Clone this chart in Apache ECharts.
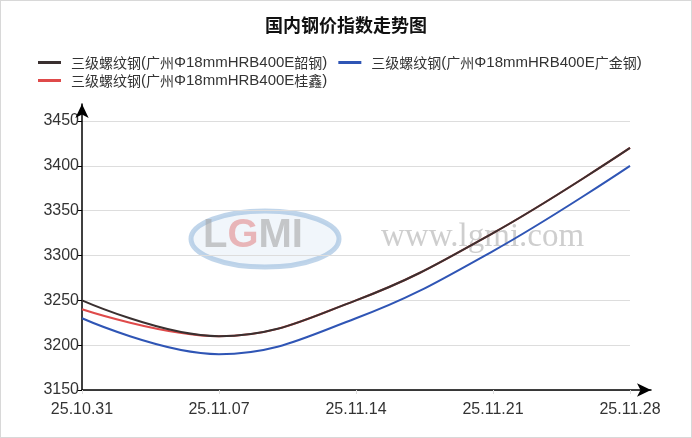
<!DOCTYPE html>
<html><head><meta charset="utf-8">
<script src="https://cdn.jsdelivr.net/npm/echarts@6/dist/echarts.min.js"></script>
<style>html,body{margin:0;padding:0;background:#fff}#c{width:692px;height:438px;box-sizing:border-box;border:1px solid #d8d8d8}</style>
</head><body><div id="c"></div>
<script>
const categories = ['25.10.31','25.11.07','25.11.14','25.11.21','25.11.28'];
const seriesNames = ['三级螺纹钢(广州Φ18mmHRB400E韶钢)','三级螺纹钢(广州Φ18mmHRB400E广金钢)','三级螺纹钢(广州Φ18mmHRB400E桂鑫)'];
const shaogang = [3250, 3210, 3250, 3325, 3420];
const guangjin = [3230, 3190, 3230, 3305, 3400];
const guixin = [3240, 3210, 3250, 3325, 3420];
const yTicks = {min: 3150, max: 3450, interval: 50};

const chart = echarts.init(document.getElementById('c'));
const latin = '"Liberation Sans", Arial, sans-serif';
const cjk = '"Noto Sans CJK SC", sans-serif';

function legendFmt(name) {
  const runs = name.match(/[\u4e00-\u9fff]+|[^\u4e00-\u9fff]+/g) || [];
  return '{s|}' + runs.map(r => (/[\u4e00-\u9fff]/.test(r) ? '{c|' : '{l|') + r + '}').join('');
}
const legendText = {
  color: '#333',
  rich: {
    s: {width: 5},
    c: {fontSize: 14, fontFamily: cjk, color: '#333'},
    l: {fontSize: 15, fontFamily: latin, color: '#333'}
  }
};
chart.setOption({
  animation: false,
  title: {text: '国内钢价指数走势图', left: 'center', top: 10,
    textStyle: {fontSize: 18, fontWeight: 'bold', color: '#111', fontFamily: cjk}},
  legend: [
    {data: [seriesNames[0], seriesNames[1]], left: 32, top: 49, itemWidth: 23, itemHeight: 3, itemGap: 11,
     icon: 'rect', formatter: legendFmt, textStyle: legendText},
    {data: [seriesNames[2]], left: 32, top: 67, itemWidth: 23, itemHeight: 3,
     icon: 'rect', formatter: legendFmt, textStyle: legendText}
  ],
  graphic: [
    {type: 'ellipse', shape: {cx: 264, cy: 238, rx: 74, ry: 28}, z: 0,
     style: {fill: 'rgba(200,220,240,0.25)', stroke: 'rgba(150,185,220,0.6)', lineWidth: 5}},
    {type: 'text', left: 202, top: 215, z: 1,
     style: {text: '{a|L}{b|G}{a|MI}', fontFamily: 'Arial, sans-serif',
       rich: {a: {fontSize: 40, fontWeight: 'bold', fill: 'rgba(165,165,165,0.6)'},
              b: {fontSize: 40, fontWeight: 'bold', fill: 'rgba(225,130,130,0.55)'}}}},
    {type: 'text', left: 380, top: 220, z: 1,
     style: {text: 'www.lgmi.com', fontSize: 33, fill: 'rgba(180,180,180,0.65)', fontFamily: '"Liberation Serif", serif'}}
  ],
  grid: [
    {left: 81, right: 61, top: 120, bottom: 47},
    {left: 81, right: 40, top: 103, bottom: 47}
  ],
  xAxis: [
    {type: 'category', data: categories, boundaryGap: false, gridIndex: 0,
     axisLine: {show: false},
     axisTick: {show: true, length: 4, lineStyle: {color: '#ddd'}},
     axisLabel: {fontSize: 16, color: '#333', margin: 12, fontFamily: latin}},
    {type: 'value', gridIndex: 1, min: 0, max: 1,
     axisLine: {show: true, symbol: ['none', 'arrow'], symbolSize: [10, 14], lineStyle: {color: '#000', width: 1.5}},
     axisTick: {show: false}, axisLabel: {show: false}, splitLine: {show: false}}
  ],
  yAxis: [
    {type: 'value', gridIndex: 0, min: yTicks.min, max: yTicks.max, interval: yTicks.interval,
     axisLine: {show: false},
     axisTick: {show: true, length: 4, lineStyle: {color: '#000'}},
     axisLabel: {fontSize: 16, color: '#333', margin: 3, fontFamily: latin, formatter: v => String(v)},
     splitLine: {lineStyle: {color: '#ddd'}}},
    {type: 'value', gridIndex: 1, min: 0, max: 1,
     axisLine: {show: true, symbol: ['none', 'arrow'], symbolSize: [10, 14], lineStyle: {color: '#000', width: 1.5}},
     axisTick: {show: false}, axisLabel: {show: false}, splitLine: {show: false}}
  ],
  series: [
    {name: seriesNames[1], type: 'line', data: guangjin, smooth: 0.4, showSymbol: false, z: 3,
     color: '#2f55b5', lineStyle: {width: 2}},
    {name: seriesNames[2], type: 'line', data: guixin, smooth: 0.4, showSymbol: false, z: 3,
     color: '#df4a4a', lineStyle: {width: 2}},
    {name: seriesNames[0], type: 'line', data: shaogang, smooth: 0.4, showSymbol: false, z: 4,
     color: '#3a3030', lineStyle: {width: 2}}
  ]
});
</script></body></html>
